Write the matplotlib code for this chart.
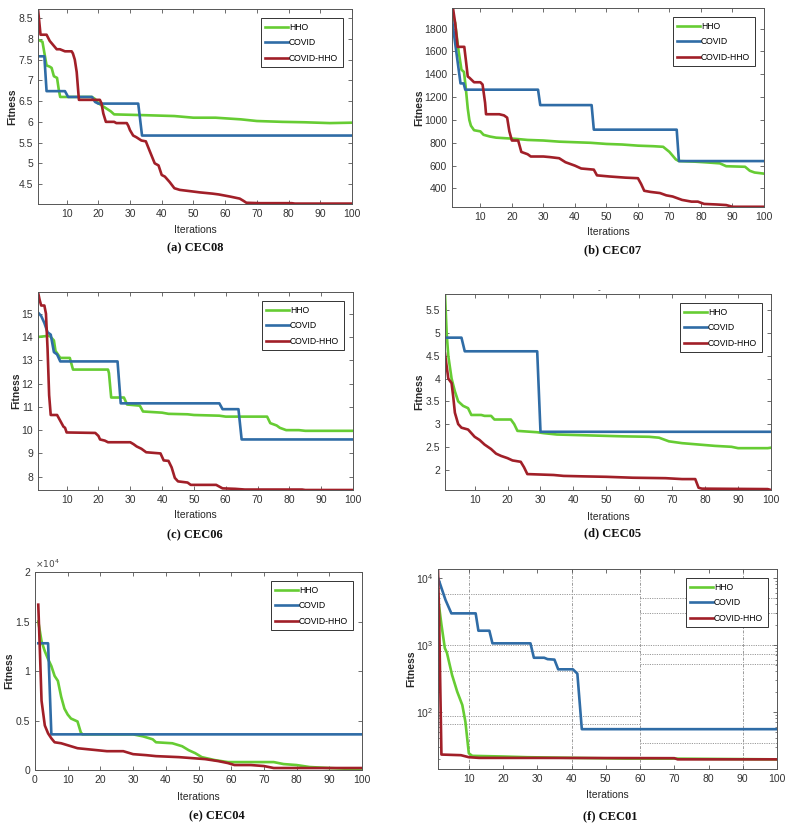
import matplotlib
matplotlib.use("Agg")
import matplotlib.pyplot as plt
from matplotlib.ticker import FormatStrFormatter, NullFormatter, LogLocator

plt.rcParams['font.family'] = ['Liberation Sans', 'DejaVu Sans']

# ---------------- data ----------------
series_names = ["HHO", "COVID", "COVID-HHO"]

# (a) CEC08
cec08_hho_x = [1, 2.4, 3.7, 4.7, 5.3, 6, 7, 7.6, 8, 11, 18, 19, 20, 22, 24, 25, 35, 44, 50, 57, 65, 70, 78, 85, 93, 100]
cec08_hho_y = [7.98, 7.93, 7.36, 7.33, 7.3, 7.1, 7.06, 6.75, 6.6, 6.6, 6.6, 6.55, 6.45, 6.35, 6.25, 6.18, 6.16, 6.14, 6.1, 6.1, 6.06, 6.02, 6.0, 5.99, 5.97, 5.98]
cec08_covid_x = [1, 3, 3.7, 9.5, 10.5, 18, 19, 20, 32.6, 33.8, 100]
cec08_covid_y = [7.58, 7.58, 6.74, 6.74, 6.6, 6.6, 6.48, 6.44, 6.44, 5.67, 5.67]
cec08_hyb_x = [1, 1.8, 3.7, 4.7, 5.8, 6.9, 7.9, 9.5, 11.6, 12, 12.6, 13.2, 13.9, 20.5, 21, 21.6, 22.4, 25, 25.7, 29, 29.5, 30, 31, 32, 33.6, 35, 36.2, 37.8, 39, 40, 41, 42.5, 44, 45.7, 48.9, 52, 56, 58, 61.5, 64.6, 65.7, 66.7, 71, 81, 82, 100]
cec08_hyb_y = [8.72, 8.1, 8.1, 7.95, 7.85, 7.75, 7.75, 7.7, 7.7, 7.65, 7.5, 7.2, 6.53, 6.53, 6.45, 6.2, 6.0, 6.0, 5.97, 5.97, 5.9, 5.8, 5.67, 5.63, 5.55, 5.53, 5.3, 5.0, 4.95, 4.72, 4.68, 4.55, 4.4, 4.36, 4.33, 4.3, 4.27, 4.25, 4.2, 4.15, 4.1, 4.05, 4.04, 4.04, 4.03, 4.03]

# (b) CEC07
cec07_hho_x = [1, 2, 3, 4, 4.8, 5.3, 6, 6.5, 7, 8, 10, 11, 13, 15, 18, 21, 25, 30, 35, 45, 50, 55, 60, 65, 68, 70, 72, 73, 78, 82, 86, 88, 94, 95.5, 97, 100]
cec07_hho_y = [1930, 1850, 1620, 1440, 1420, 1300, 1100, 1000, 950, 910, 900, 870, 855, 845, 840, 835, 825, 820, 810, 800, 790, 785, 775, 770, 765, 720, 655, 640, 635, 628, 620, 595, 590, 555, 540, 530]
cec07_covid_x = [1, 3.7, 4.7, 5.2, 28.3, 29, 45.3, 46, 72.3, 73, 100]
cec07_covid_y = [1880, 1320, 1320, 1265, 1265, 1130, 1130, 915, 915, 640, 640]
cec07_hyb_x = [1, 1.3, 2, 2.8, 4.9, 5.5, 6, 6.5, 8, 10, 10.7, 11.5, 11.8, 16, 17.5, 18.5, 19.2, 20, 22, 23, 25, 26, 30, 32, 35, 37, 40, 42, 46, 47, 51, 56, 60, 61, 62, 64, 67, 69, 71, 74, 77, 79, 81, 85, 88, 90, 100]
cec07_hyb_y = [1980, 1980, 1850, 1640, 1640, 1500, 1380, 1370, 1330, 1330, 1310, 1150, 1050, 1050, 1040, 1020, 900, 820, 820, 720, 700, 680, 680, 675, 665, 630, 600, 575, 565, 515, 505, 495, 490, 440, 380, 370, 360, 340, 330, 300, 285, 285, 265, 260, 255, 240, 240]

# (c) CEC06
cec06_hho_x = [1, 4.5, 5, 6, 6.5, 7, 8, 11, 12, 23, 23.3, 24, 28, 29, 33, 34, 40, 42, 48, 50, 58, 60, 73, 74, 76, 77, 79, 83, 85, 100]
cec06_hho_y = [14.0, 14.05, 14.0, 13.85, 13.4, 13.3, 13.1, 13.1, 12.6, 12.6, 12.45, 11.4, 11.4, 11.1, 11.05, 10.8, 10.75, 10.7, 10.68, 10.65, 10.62, 10.58, 10.58, 10.3, 10.2, 10.1, 10.0, 10.0, 9.97, 9.97]
cec06_covid_x = [1, 2, 3, 4, 5, 6, 7, 8, 26, 27, 58, 59, 64, 65, 100]
cec06_covid_y = [15.05, 14.9, 14.6, 14.2, 14.1, 13.35, 13.25, 12.95, 12.95, 11.15, 11.15, 10.9, 10.9, 9.6, 9.6]
cec06_hyb_x = [1, 1.5, 2, 3, 3.5, 4, 4.5, 5, 7, 8, 9, 9.5, 10, 19, 20, 20.5, 22, 23, 30, 31, 32, 33.5, 35, 39.5, 40.5, 42, 43, 44, 45, 48, 49, 57, 59, 63, 66, 84, 85, 100]
cec06_hyb_y = [15.93, 15.6, 15.35, 15.35, 15.0, 13.5, 11.5, 10.65, 10.65, 10.4, 10.15, 10.1, 9.9, 9.88, 9.75, 9.6, 9.55, 9.48, 9.48, 9.4, 9.3, 9.2, 9.05, 9.0, 8.7, 8.68, 8.4, 7.95, 7.8, 7.75, 7.65, 7.65, 7.5, 7.48, 7.45, 7.45, 7.43, 7.43]

# (d) CEC05
cec05_hho_x = [1, 1.5, 2, 3, 4, 5, 6.5, 8, 9, 12, 13, 15, 16, 21, 22, 23, 29, 31, 35, 45, 55, 63, 66, 69, 73, 78, 83, 88, 90, 99, 100]
cec05_hho_y = [5.86, 5.0, 4.5, 4.0, 3.72, 3.5, 3.4, 3.35, 3.2, 3.2, 3.18, 3.18, 3.1, 3.1, 3.0, 2.85, 2.82, 2.8, 2.77, 2.75, 2.73, 2.72, 2.7, 2.62, 2.58, 2.55, 2.52, 2.5, 2.47, 2.47, 2.48]
cec05_covid_x = [1, 6, 7, 29, 30, 100]
cec05_covid_y = [4.9, 4.9, 4.6, 4.6, 2.83, 2.83]
cec05_hyb_x = [1, 2, 3, 3.5, 4, 5, 6, 8, 9, 10, 11.5, 13, 15, 16.5, 18, 20, 21.5, 24, 25, 26, 34, 37, 43, 50, 58, 68, 73, 77, 78, 79, 99, 100]
cec05_hyb_y = [4.55, 4.0, 3.9, 3.6, 3.25, 3.0, 2.92, 2.88, 2.8, 2.72, 2.65, 2.55, 2.45, 2.35, 2.3, 2.25, 2.2, 2.17, 2.05, 1.9, 1.88, 1.86, 1.85, 1.84, 1.82, 1.81, 1.79, 1.79, 1.6, 1.58, 1.57, 1.55]

# (e) CEC04
cec04_hho_x = [1, 2, 3, 4, 5, 6, 7, 8, 9, 10, 11, 13, 14, 14.5, 30, 33, 36, 37, 42, 45, 47, 49, 51, 55, 59, 73, 76, 80, 84, 90, 97, 100]
cec04_hho_y = [15000, 13000, 12000, 11200, 10500, 9500, 9000, 7400, 6200, 5600, 5200, 4900, 3800, 3600, 3600, 3400, 3100, 2800, 2700, 2400, 2000, 1700, 1300, 1000, 800, 800, 600, 500, 300, 200, 100, 150]
cec04_covid_x = [1, 4, 5, 100]
cec04_covid_y = [12800, 12800, 3600, 3600]
cec04_hyb_x = [1, 1.5, 2, 3, 4, 5, 6, 8, 10, 13, 16, 19, 22, 27, 30, 34, 37, 44, 48, 52, 56, 59, 61, 66, 70, 73, 80, 90, 100]
cec04_hyb_y = [16700, 12000, 7000, 4500, 3700, 3200, 2800, 2700, 2500, 2200, 2100, 2000, 1900, 1900, 1600, 1500, 1400, 1300, 1200, 1100, 900, 700, 500, 500, 400, 200, 200, 200, 200]

# (f) CEC01
cec01_hho_x = [1, 2, 3, 3.6, 5.1, 6.6, 8.1, 9, 10, 11, 20, 27, 56, 70, 100]
cec01_hho_y = [5000, 2000, 890, 760, 355, 200, 126, 71, 24, 22, 21.5, 21, 20, 20, 19.5]
cec01_covid_x = [1, 3.2, 4.9, 12, 12.8, 16, 16.9, 28, 29, 32, 33, 35, 36.1, 40.4, 41.7, 43, 100]
cec01_covid_y = [10000, 4650, 2940, 2940, 1620, 1620, 1050, 1050, 640, 640, 610, 600, 430, 430, 370, 55, 55]
cec01_hyb_x = [1, 1.3, 2, 7.7, 10, 13, 30, 70, 71, 100]
cec01_hyb_y = [13600, 3000, 23, 22.5, 21, 20.5, 20.5, 20.3, 19.5, 19.5]

# grid fragments of panel (f): value, x-start, x-end
cec01_hgrid_vals = [5700, 5000, 2940, 1000, 805, 720, 510, 405, 86, 66, 34]
cec01_hgrid_x0 = [1, 60, 60, 1, 1, 60, 60, 1, 1, 1, 60]
cec01_hgrid_x1 = [60, 100, 100, 100, 60, 100, 100, 60, 60, 60, 100]
cec01_vgrid = [10, 40, 60, 90]

panel_titles = ["(a) CEC08", "(b) CEC07", "(c) CEC06", "(d) CEC05", "(e) CEC04", "(f) CEC01"]

# ---------------- style ----------------
W, H = 789, 830
colors = ["#66cc33", "#2f6ca6", "#a11f28"]
LW = 1.9
axcol = "#555555"
txtcol = "#262626"

fig = plt.figure(figsize=(W / 100, H / 100), dpi=100)
fig.patch.set_facecolor("white")

# axes boxes in pixel coordinates (left, top, right, bottom)
boxes = [
    (38, 9, 352, 204),
    (452, 8, 764, 207),
    (38, 292, 353, 490),
    (445, 294, 771, 490),
    (35, 572, 362, 770),
    (438, 569, 777, 769),
]
ylab_off = [26, 33, 22, 26, 26, 27]
xlab_off = [26, 25, 25, 27, 27, 26]
title_pos = [(195, 248), (613, 250), (195, 535), (613, 533), (217, 816), (610, 816)]

data = [
    (cec08_hho_x, cec08_hho_y, cec08_covid_x, cec08_covid_y, cec08_hyb_x, cec08_hyb_y),
    (cec07_hho_x, cec07_hho_y, cec07_covid_x, cec07_covid_y, cec07_hyb_x, cec07_hyb_y),
    (cec06_hho_x, cec06_hho_y, cec06_covid_x, cec06_covid_y, cec06_hyb_x, cec06_hyb_y),
    (cec05_hho_x, cec05_hho_y, cec05_covid_x, cec05_covid_y, cec05_hyb_x, cec05_hyb_y),
    (cec04_hho_x, cec04_hho_y, cec04_covid_x, cec04_covid_y, cec04_hyb_x, cec04_hyb_y),
    (cec01_hho_x, cec01_hho_y, cec01_covid_x, cec01_covid_y, cec01_hyb_x, cec01_hyb_y),
]
ylims = [(4.02, 8.72), (238, 1980), (7.43, 15.93), (1.55, 5.86), (0, 20000), (14, 13500)]
yticks = [
    [4.5, 5, 5.5, 6, 6.5, 7, 7.5, 8, 8.5],
    [400, 600, 800, 1000, 1200, 1400, 1600, 1800],
    [8, 9, 10, 11, 12, 13, 14, 15],
    [2, 2.5, 3, 3.5, 4, 4.5, 5, 5.5],
    [0, 5000, 10000, 15000, 20000],
    None,
]
cec04_ticklabels = ["0", "0.5", "1", "1.5", "2"]

for i, (l, t, r, b) in enumerate(boxes):
    ax = fig.add_axes([l / W, 1 - b / H, (r - l) / W, (b - t) / H])
    hx, hy, cx, cy, rx, ry = data[i]
    if i == 5:
        ax.set_yscale("log")
        for v, x0, x1 in zip(cec01_hgrid_vals, cec01_hgrid_x0, cec01_hgrid_x1):
            ax.hlines(v, x0, x1, colors="#9a9a9a", linestyles=(0, (1.2, 1.2)), linewidth=0.7, zorder=0)
        for xv in cec01_vgrid:
            ax.axvline(xv, color="#9a9a9a", linestyle=(0, (3, 1.5, 1, 1.5)), linewidth=0.7, zorder=0)
    ax.plot(hx, hy, color=colors[0], lw=LW, label=series_names[0], solid_joinstyle="round")
    ax.plot(cx, cy, color=colors[1], lw=LW, label=series_names[1], solid_joinstyle="round")
    ax.plot(rx, ry, color=colors[2], lw=LW, label=series_names[2], solid_joinstyle="round")

    if i == 4:
        ax.set_xlim(0, 100)
        ax.set_xticks(range(0, 101, 10))
    else:
        ax.set_xlim(1, 100)
        ax.set_xticks(range(10, 101, 10))
    ax.set_ylim(*ylims[i])
    if yticks[i] is not None:
        ax.set_yticks(yticks[i])
        ax.yaxis.set_major_formatter(FormatStrFormatter("%g"))
    if i == 4:
        ax.set_yticklabels(cec04_ticklabels)
        ax.text(0.0, 1.01, r"$\times10^{4}$", transform=ax.transAxes, fontsize=6.5,
                color="#444444", ha="left", va="bottom")
    if i == 5:
        ax.yaxis.set_major_locator(LogLocator(base=10, numticks=10))
        ax.yaxis.set_minor_locator(LogLocator(base=10, subs=range(2, 10), numticks=20))
        ax.yaxis.set_minor_formatter(NullFormatter())

    ax.tick_params(axis="both", which="both", direction="in", top=True, right=True,
                   labelsize=7.5, colors=axcol, labelcolor="#333333", pad=3.5)
    ax.tick_params(which="major", length=3, width=0.6)
    ax.tick_params(which="minor", length=1.6, width=0.5)
    for sp in ax.spines.values():
        sp.set_color(axcol)
        sp.set_linewidth(0.7)

    ax.set_xlabel("Iterations", fontsize=7.5, color=txtcol)
    ax.set_ylabel("Fitness", fontsize=7.5, color=txtcol, fontweight="bold")
    wpx = r - l
    hpx = b - t
    ax.xaxis.set_label_coords(0.5, -xlab_off[i] / hpx)
    ax.xaxis.label.set_va("center")
    ax.yaxis.set_label_coords(-ylab_off[i] / wpx, 0.5)
    ax.yaxis.label.set_va("center")

    leg = ax.legend(loc="upper right", fontsize=6.2, frameon=True, fancybox=False,
                    edgecolor="#333333", framealpha=1, handlelength=2.7,
                    handletextpad=0.1, labelspacing=0.75, borderpad=0.5,
                    borderaxespad=1.1)
    leg.get_frame().set_linewidth(0.7)

    tx, ty = title_pos[i]
    fig.text(tx / W, 1 - ty / H, panel_titles[i], ha="center", va="center",
             fontsize=9, fontweight="bold", family=["Liberation Serif", "DejaVu Serif"],
             color="#111111")

# small stray mark above panel (d)
fig.text(599 / W, 1 - 291 / H, "-", ha="center", va="center", fontsize=6, color="#333333")

fig.savefig("out.png", dpi=100, facecolor="white")
